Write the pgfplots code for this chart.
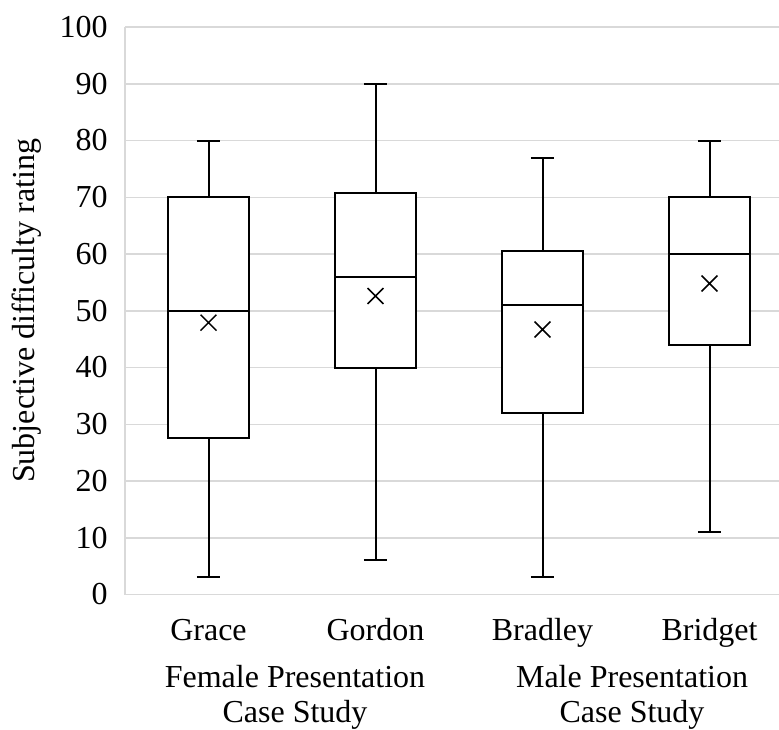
\documentclass[border=0pt]{standalone}
\usepackage{fontspec}
\setmainfont{Liberation Serif}
\usepackage{pgfplots}
\pgfplotsset{compat=1.18}
\usepgfplotslibrary{statistics}
\definecolor{gridgray}{HTML}{D9D9D9}
\begin{document}
\fontsize{16}{17.5}\selectfont
\begin{tikzpicture}
\path[use as bounding box] (-62.5pt,-67.25pt) rectangle (327pt,297.25pt);
\begin{axis}[
  scale only axis, width=327pt, height=283.75pt,
  at={(0,0)}, anchor=south west,
  xmin=0.5, xmax=4.416, ymin=0, ymax=100,
  ytick={0,10,...,100},
  xtick={1,2,3,4}, xticklabels={Grace,Gordon,Bradley,Bridget},
  ymajorgrids, grid style={draw=gridgray, line width=0.75pt},
  axis x line*=bottom, axis y line*=left,
  axis line style={draw=gridgray, line width=0.75pt, -},
  major tick length=0pt,
  tick label style={font=\fontsize{16}{17.5}\selectfont, text=black},
  /pgf/number format/assume math mode=true,
  yticklabel style={inner sep=0pt, anchor=east, xshift=-8.5pt},
  xticklabel style={inner sep=0pt, anchor=base, yshift=-22.75pt},
  ylabel={Subjective difficulty rating},
  ylabel style={at={(axis description cs:-0.1269,0.5)}, anchor=south, inner sep=0pt, font=\fontsize{16}{17.5}\selectfont},
  clip=false,
  boxplot/draw direction=y,
]
\addplot[draw=black, fill=white, line width=1pt, boxplot prepared={draw position=1, lower whisker=3, lower quartile=27.5, median=50, upper quartile=70, upper whisker=80, box extend=0.49, whisker extend=0.14}] coordinates {};
\addplot[draw=black, fill=white, line width=1pt, boxplot prepared={draw position=2, lower whisker=6, lower quartile=40, median=56, upper quartile=70.8, upper whisker=90, box extend=0.49, whisker extend=0.14}] coordinates {};
\addplot[draw=black, fill=white, line width=1pt, boxplot prepared={draw position=3, lower whisker=3, lower quartile=32, median=51, upper quartile=60.6, upper whisker=77, box extend=0.49, whisker extend=0.14}] coordinates {};
\addplot[draw=black, fill=white, line width=1pt, boxplot prepared={draw position=4, lower whisker=11, lower quartile=44, median=60, upper quartile=70, upper whisker=80, box extend=0.49, whisker extend=0.14}] coordinates {};
% means
\addplot[only marks, mark=x, mark size=5.6pt, mark options={draw=black, line width=0.75pt}] coordinates {(1,47.9) (2,52.6) (3,46.7) (4,54.8)};
\node[anchor=base, inner sep=0pt] at (axis cs:1.518,0) [yshift=-46.25pt] {Female Presentation};
\node[anchor=base, inner sep=0pt] at (axis cs:1.518,0) [yshift=-63.75pt] {Case Study};
\node[anchor=base, inner sep=0pt] at (axis cs:3.536,0) [yshift=-46.25pt] {Male Presentation};
\node[anchor=base, inner sep=0pt] at (axis cs:3.536,0) [yshift=-63.75pt] {Case Study};
\end{axis}
\end{tikzpicture}
\end{document}
